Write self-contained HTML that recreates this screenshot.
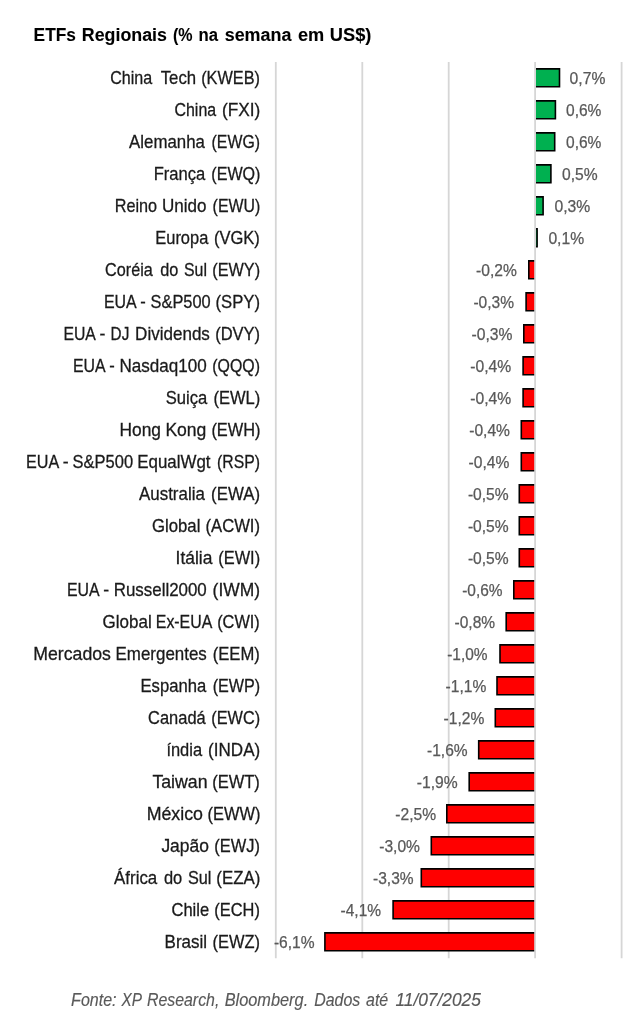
<!DOCTYPE html>
<html lang="pt-BR">
<head>
<meta charset="utf-8">
<title>ETFs Regionais (% na semana em US$)</title>
<style>
html,body{margin:0;padding:0;background:#fff;}
body{width:637px;height:1024px;overflow:hidden;}
svg{display:block;filter:blur(.35px);}
text{font-family:"Liberation Sans",Arial,Helvetica,sans-serif;}
.t{font-size:19.1px;font-weight:700;fill:#000;stroke:#000;stroke-width:.1;}
.c{font-size:18.6px;fill:#1a1a1a;stroke:#1a1a1a;stroke-width:.3;}
.v{font-size:15.6px;fill:#595959;stroke:#595959;stroke-width:.25;}
.f{font-size:18.3px;font-style:italic;fill:#595959;stroke:#595959;stroke-width:.15;}
.g{stroke:#d6d6d6;stroke-width:1.8;}
.p{fill:#00b050;stroke:#000;stroke-width:1.6;}
.n{fill:#ff0000;stroke:#000;stroke-width:1.6;}
</style>
</head>
<body>
<svg width="637" height="1024" viewBox="0 0 637 1024">
<rect width="637" height="1024" fill="#fff"/>
<text class="t" y="40.9"><tspan x="33.6" textLength="42.3" lengthAdjust="spacingAndGlyphs">ETFs</tspan> <tspan x="81.8" textLength="85.1" lengthAdjust="spacingAndGlyphs">Regionais</tspan> <tspan x="173.0" textLength="19.6" lengthAdjust="spacingAndGlyphs">(%</tspan> <tspan x="198.6" textLength="19.5" lengthAdjust="spacingAndGlyphs">na</tspan> <tspan x="224.7" textLength="66.7" lengthAdjust="spacingAndGlyphs">semana</tspan> <tspan x="298.0" textLength="26.3" lengthAdjust="spacingAndGlyphs">em</tspan> <tspan x="329.8" textLength="41.6" lengthAdjust="spacingAndGlyphs">US$)</tspan></text>
<line class="g" x1="275.8" y1="62.0" x2="275.8" y2="958.3"/>
<line class="g" x1="362.3" y1="62.0" x2="362.3" y2="958.3"/>
<line class="g" x1="448.7" y1="62.0" x2="448.7" y2="958.3"/>
<line class="g" x1="621.6" y1="62.0" x2="621.6" y2="958.3"/>
<path class="p" d="M535.1 68.85H559.5V86.75H535.1"/>
<text class="c" y="83.5"><tspan x="110.2" textLength="42.0" lengthAdjust="spacingAndGlyphs">China</tspan> <tspan x="160.7" textLength="35.4" lengthAdjust="spacingAndGlyphs">Tech</tspan> <tspan x="201.2" textLength="58.8" lengthAdjust="spacingAndGlyphs">(KWEB)</tspan></text>
<text class="v" x="569.6" y="84.2" textLength="35.8" lengthAdjust="spacingAndGlyphs">0,7%</text>
<path class="p" d="M535.1 100.85H555.4V118.75H535.1"/>
<text class="c" y="115.5"><tspan x="174.5" textLength="41.6" lengthAdjust="spacingAndGlyphs">China</tspan> <tspan x="221.9" textLength="38.3" lengthAdjust="spacingAndGlyphs">(FXI)</tspan></text>
<text class="v" x="566.0" y="116.2" textLength="35.4" lengthAdjust="spacingAndGlyphs">0,6%</text>
<path class="p" d="M535.1 132.85H554.7V150.75H535.1"/>
<text class="c" y="147.5"><tspan x="129.1" textLength="75.8" lengthAdjust="spacingAndGlyphs">Alemanha</tspan> <tspan x="211.6" textLength="48.4" lengthAdjust="spacingAndGlyphs">(EWG)</tspan></text>
<text class="v" x="566.0" y="148.2" textLength="35.4" lengthAdjust="spacingAndGlyphs">0,6%</text>
<path class="p" d="M535.1 164.85H550.9V182.75H535.1"/>
<text class="c" y="179.5"><tspan x="153.7" textLength="51.6" lengthAdjust="spacingAndGlyphs">França</tspan> <tspan x="211.3" textLength="49.2" lengthAdjust="spacingAndGlyphs">(EWQ)</tspan></text>
<text class="v" x="562.1" y="180.2" textLength="35.6" lengthAdjust="spacingAndGlyphs">0,5%</text>
<path class="p" d="M535.1 196.85H543.1V214.75H535.1"/>
<text class="c" y="211.5"><tspan x="114.7" textLength="42.4" lengthAdjust="spacingAndGlyphs">Reino</tspan> <tspan x="162.0" textLength="44.5" lengthAdjust="spacingAndGlyphs">Unido</tspan> <tspan x="212.6" textLength="47.6" lengthAdjust="spacingAndGlyphs">(EWU)</tspan></text>
<text class="v" x="554.5" y="212.2" textLength="35.8" lengthAdjust="spacingAndGlyphs">0,3%</text>
<path class="p" d="M535.1 228.85H537.1V246.75H535.1"/>
<text class="c" y="243.5"><tspan x="155.3" textLength="53.0" lengthAdjust="spacingAndGlyphs">Europa</tspan> <tspan x="213.9" textLength="45.9" lengthAdjust="spacingAndGlyphs">(VGK)</tspan></text>
<text class="v" x="548.4" y="244.2" textLength="35.8" lengthAdjust="spacingAndGlyphs">0,1%</text>
<path class="n" d="M535.1 260.85H528.8V278.75H535.1"/>
<text class="c" y="275.5"><tspan x="105.1" textLength="47.7" lengthAdjust="spacingAndGlyphs">Coréia</tspan> <tspan x="160.2" textLength="18.1" lengthAdjust="spacingAndGlyphs">do</tspan> <tspan x="184.0" textLength="23.0" lengthAdjust="spacingAndGlyphs">Sul</tspan> <tspan x="212.3" textLength="47.8" lengthAdjust="spacingAndGlyphs">(EWY)</tspan></text>
<text class="v" x="476.0" y="276.2" textLength="40.8" lengthAdjust="spacingAndGlyphs">-0,2%</text>
<path class="n" d="M535.1 292.85H526.1V310.75H535.1"/>
<text class="c" y="307.5"><tspan x="103.9" textLength="31.9" lengthAdjust="spacingAndGlyphs">EUA</tspan> <tspan x="140.2" textLength="5.5" lengthAdjust="spacingAndGlyphs">-</tspan> <tspan x="150.6" textLength="60.1" lengthAdjust="spacingAndGlyphs">S&amp;P500</tspan> <tspan x="215.5" textLength="44.5" lengthAdjust="spacingAndGlyphs">(SPY)</tspan></text>
<text class="v" x="473.4" y="308.2" textLength="40.6" lengthAdjust="spacingAndGlyphs">-0,3%</text>
<path class="n" d="M535.1 324.85H523.8V342.75H535.1"/>
<text class="c" y="339.5"><tspan x="63.4" textLength="31.6" lengthAdjust="spacingAndGlyphs">EUA</tspan> <tspan x="99.6" textLength="5.9" lengthAdjust="spacingAndGlyphs">-</tspan> <tspan x="110.6" textLength="18.7" lengthAdjust="spacingAndGlyphs">DJ</tspan> <tspan x="135.1" textLength="74.8" lengthAdjust="spacingAndGlyphs">Dividends</tspan> <tspan x="215.2" textLength="44.9" lengthAdjust="spacingAndGlyphs">(DVY)</tspan></text>
<text class="v" x="471.5" y="340.2" textLength="41.0" lengthAdjust="spacingAndGlyphs">-0,3%</text>
<path class="n" d="M535.1 356.85H523.1V374.75H535.1"/>
<text class="c" y="371.5"><tspan x="72.9" textLength="31.8" lengthAdjust="spacingAndGlyphs">EUA</tspan> <tspan x="109.2" textLength="5.5" lengthAdjust="spacingAndGlyphs">-</tspan> <tspan x="119.5" textLength="87.2" lengthAdjust="spacingAndGlyphs">Nasdaq100</tspan> <tspan x="212.3" textLength="47.7" lengthAdjust="spacingAndGlyphs">(QQQ)</tspan></text>
<text class="v" x="470.3" y="372.2" textLength="41.0" lengthAdjust="spacingAndGlyphs">-0,4%</text>
<path class="n" d="M535.1 388.85H523.1V406.75H535.1"/>
<text class="c" y="403.5"><tspan x="165.8" textLength="41.5" lengthAdjust="spacingAndGlyphs">Suiça</tspan> <tspan x="213.4" textLength="46.8" lengthAdjust="spacingAndGlyphs">(EWL)</tspan></text>
<text class="v" x="470.3" y="404.2" textLength="41.0" lengthAdjust="spacingAndGlyphs">-0,4%</text>
<path class="n" d="M535.1 420.85H521.3V438.75H535.1"/>
<text class="c" y="435.5"><tspan x="119.5" textLength="41.5" lengthAdjust="spacingAndGlyphs">Hong</tspan> <tspan x="165.4" textLength="41.0" lengthAdjust="spacingAndGlyphs">Kong</tspan> <tspan x="211.4" textLength="49.1" lengthAdjust="spacingAndGlyphs">(EWH)</tspan></text>
<text class="v" x="469.2" y="436.2" textLength="40.8" lengthAdjust="spacingAndGlyphs">-0,4%</text>
<path class="n" d="M535.1 452.85H521.3V470.75H535.1"/>
<text class="c" y="467.5"><tspan x="26.0" textLength="32.3" lengthAdjust="spacingAndGlyphs">EUA</tspan> <tspan x="62.8" textLength="5.9" lengthAdjust="spacingAndGlyphs">-</tspan> <tspan x="72.6" textLength="60.5" lengthAdjust="spacingAndGlyphs">S&amp;P500</tspan> <tspan x="137.3" textLength="73.2" lengthAdjust="spacingAndGlyphs">EqualWgt</tspan> <tspan x="217.0" textLength="43.0" lengthAdjust="spacingAndGlyphs">(RSP)</tspan></text>
<text class="v" x="468.5" y="468.2" textLength="40.8" lengthAdjust="spacingAndGlyphs">-0,4%</text>
<path class="n" d="M535.1 484.85H519.3V502.75H535.1"/>
<text class="c" y="499.5"><tspan x="139.0" textLength="65.8" lengthAdjust="spacingAndGlyphs">Australia</tspan> <tspan x="211.1" textLength="48.9" lengthAdjust="spacingAndGlyphs">(EWA)</tspan></text>
<text class="v" x="467.9" y="500.2" textLength="40.8" lengthAdjust="spacingAndGlyphs">-0,5%</text>
<path class="n" d="M535.1 516.85H519.3V534.75H535.1"/>
<text class="c" y="531.5"><tspan x="152.0" textLength="48.4" lengthAdjust="spacingAndGlyphs">Global</tspan> <tspan x="205.5" textLength="54.5" lengthAdjust="spacingAndGlyphs">(ACWI)</tspan></text>
<text class="v" x="467.9" y="532.2" textLength="40.8" lengthAdjust="spacingAndGlyphs">-0,5%</text>
<path class="n" d="M535.1 548.85H519.3V566.75H535.1"/>
<text class="c" y="563.5"><tspan x="175.6" textLength="36.8" lengthAdjust="spacingAndGlyphs">Itália</tspan> <tspan x="218.3" textLength="41.8" lengthAdjust="spacingAndGlyphs">(EWI)</tspan></text>
<text class="v" x="467.9" y="564.2" textLength="40.8" lengthAdjust="spacingAndGlyphs">-0,5%</text>
<path class="n" d="M535.1 580.85H513.8V598.75H535.1"/>
<text class="c" y="595.5"><tspan x="66.9" textLength="31.8" lengthAdjust="spacingAndGlyphs">EUA</tspan> <tspan x="103.2" textLength="5.9" lengthAdjust="spacingAndGlyphs">-</tspan> <tspan x="113.7" textLength="93.1" lengthAdjust="spacingAndGlyphs">Russell2000</tspan> <tspan x="212.6" textLength="47.5" lengthAdjust="spacingAndGlyphs">(IWM)</tspan></text>
<text class="v" x="462.2" y="596.2" textLength="40.4" lengthAdjust="spacingAndGlyphs">-0,6%</text>
<path class="n" d="M535.1 612.85H506.2V630.75H535.1"/>
<text class="c" y="627.5"><tspan x="102.6" textLength="49.1" lengthAdjust="spacingAndGlyphs">Global</tspan> <tspan x="155.8" textLength="55.6" lengthAdjust="spacingAndGlyphs">Ex-EUA</tspan> <tspan x="217.2" textLength="42.6" lengthAdjust="spacingAndGlyphs">(CWI)</tspan></text>
<text class="v" x="454.6" y="628.2" textLength="40.5" lengthAdjust="spacingAndGlyphs">-0,8%</text>
<path class="n" d="M535.1 644.85H500.0V662.75H535.1"/>
<text class="c" y="659.5"><tspan x="33.3" textLength="77.6" lengthAdjust="spacingAndGlyphs">Mercados</tspan> <tspan x="115.6" textLength="91.2" lengthAdjust="spacingAndGlyphs">Emergentes</tspan> <tspan x="212.7" textLength="47.1" lengthAdjust="spacingAndGlyphs">(EEM)</tspan></text>
<text class="v" x="447.2" y="660.2" textLength="40.4" lengthAdjust="spacingAndGlyphs">-1,0%</text>
<path class="n" d="M535.1 676.85H497.0V694.75H535.1"/>
<text class="c" y="691.5"><tspan x="140.5" textLength="65.7" lengthAdjust="spacingAndGlyphs">Espanha</tspan> <tspan x="212.7" textLength="47.5" lengthAdjust="spacingAndGlyphs">(EWP)</tspan></text>
<text class="v" x="445.5" y="692.2" textLength="40.8" lengthAdjust="spacingAndGlyphs">-1,1%</text>
<path class="n" d="M535.1 708.85H495.3V726.75H535.1"/>
<text class="c" y="723.5"><tspan x="148.1" textLength="57.6" lengthAdjust="spacingAndGlyphs">Canadá</tspan> <tspan x="211.3" textLength="48.8" lengthAdjust="spacingAndGlyphs">(EWC)</tspan></text>
<text class="v" x="443.5" y="724.2" textLength="40.8" lengthAdjust="spacingAndGlyphs">-1,2%</text>
<path class="n" d="M535.1 740.85H478.7V758.75H535.1"/>
<text class="c" y="755.5"><tspan x="166.4" textLength="35.7" lengthAdjust="spacingAndGlyphs">índia</tspan> <tspan x="208.1" textLength="52.1" lengthAdjust="spacingAndGlyphs">(INDA)</tspan></text>
<text class="v" x="427.0" y="756.2" textLength="40.6" lengthAdjust="spacingAndGlyphs">-1,6%</text>
<path class="n" d="M535.1 772.85H469.2V790.75H535.1"/>
<text class="c" y="787.5"><tspan x="152.4" textLength="55.2" lengthAdjust="spacingAndGlyphs">Taiwan</tspan> <tspan x="212.2" textLength="47.6" lengthAdjust="spacingAndGlyphs">(EWT)</tspan></text>
<text class="v" x="416.8" y="788.2" textLength="40.9" lengthAdjust="spacingAndGlyphs">-1,9%</text>
<path class="n" d="M535.1 804.85H446.8V822.75H535.1"/>
<text class="c" y="819.5"><tspan x="146.7" textLength="56.3" lengthAdjust="spacingAndGlyphs">México</tspan> <tspan x="207.6" textLength="52.8" lengthAdjust="spacingAndGlyphs">(EWW)</tspan></text>
<text class="v" x="395.3" y="820.2" textLength="40.8" lengthAdjust="spacingAndGlyphs">-2,5%</text>
<path class="n" d="M535.1 836.85H431.3V854.75H535.1"/>
<text class="c" y="851.5"><tspan x="161.4" textLength="47.5" lengthAdjust="spacingAndGlyphs">Japão</tspan> <tspan x="214.3" textLength="45.6" lengthAdjust="spacingAndGlyphs">(EWJ)</tspan></text>
<text class="v" x="379.2" y="852.2" textLength="40.8" lengthAdjust="spacingAndGlyphs">-3,0%</text>
<path class="n" d="M535.1 868.85H421.3V886.75H535.1"/>
<text class="c" y="883.5"><tspan x="114.1" textLength="43.1" lengthAdjust="spacingAndGlyphs">África</tspan> <tspan x="163.9" textLength="18.3" lengthAdjust="spacingAndGlyphs">do</tspan> <tspan x="187.9" textLength="23.5" lengthAdjust="spacingAndGlyphs">Sul</tspan> <tspan x="216.3" textLength="44.0" lengthAdjust="spacingAndGlyphs">(EZA)</tspan></text>
<text class="v" x="373.0" y="884.2" textLength="40.6" lengthAdjust="spacingAndGlyphs">-3,3%</text>
<path class="n" d="M535.1 900.85H393.1V918.75H535.1"/>
<text class="c" y="915.5"><tspan x="171.5" textLength="37.6" lengthAdjust="spacingAndGlyphs">Chile</tspan> <tspan x="214.3" textLength="45.6" lengthAdjust="spacingAndGlyphs">(ECH)</tspan></text>
<text class="v" x="340.6" y="916.2" textLength="40.5" lengthAdjust="spacingAndGlyphs">-4,1%</text>
<path class="n" d="M535.1 932.85H324.9V950.75H535.1"/>
<text class="c" y="947.5"><tspan x="164.6" textLength="42.5" lengthAdjust="spacingAndGlyphs">Brasil</tspan> <tspan x="212.6" textLength="47.5" lengthAdjust="spacingAndGlyphs">(EWZ)</tspan></text>
<text class="v" x="273.9" y="948.2" textLength="40.7" lengthAdjust="spacingAndGlyphs">-6,1%</text>
<line class="g" x1="535.1" y1="62.0" x2="535.1" y2="958.3"/>
<text class="f" y="1005.5"><tspan x="71.1" textLength="45.4" lengthAdjust="spacingAndGlyphs">Fonte:</tspan> <tspan x="121.6" textLength="19.9" lengthAdjust="spacingAndGlyphs">XP</tspan> <tspan x="146.9" textLength="72.5" lengthAdjust="spacingAndGlyphs">Research,</tspan> <tspan x="224.7" textLength="83.5" lengthAdjust="spacingAndGlyphs">Bloomberg.</tspan> <tspan x="314.2" textLength="46.1" lengthAdjust="spacingAndGlyphs">Dados</tspan> <tspan x="366.0" textLength="22.2" lengthAdjust="spacingAndGlyphs">até</tspan> <tspan x="395.4" textLength="85.5" lengthAdjust="spacingAndGlyphs">11/07/2025</tspan></text>
</svg>
</body>
</html>
